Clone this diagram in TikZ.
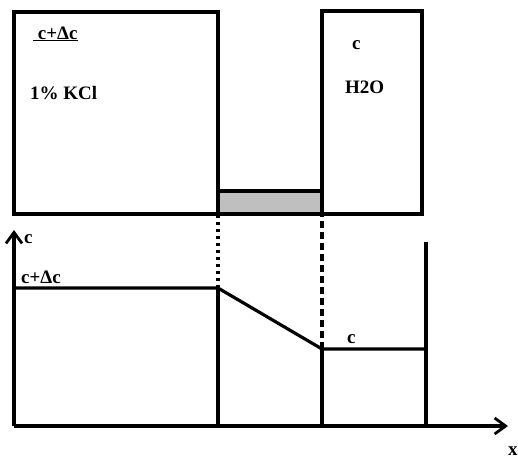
\documentclass[tikz,border=0pt]{standalone}
\usepackage{fontspec}
\setmainfont{Liberation Serif}
\usetikzlibrary{arrows.meta}
\begin{document}
\begin{tikzpicture}[x=1pt,y=-1pt,
  thick line/.style={line width=3.2pt},
  lbl/.style={anchor=base west,inner sep=0pt,font=\fontsize{19}{20}\selectfont\bfseries},
  axis/.style={thick line,-{Straight Barb[length=11pt,width=16pt,line width=2.8pt]}},
  dotline/.style={line width=3.2pt,dash pattern=on 3pt off 4pt},
  dashline/.style={line width=3.2pt,dash pattern=on 7pt off 4pt}]
\useasboundingbox (0,0) rectangle (518,459);
% coordinates
\coordinate (L1) at (14,12);
\coordinate (L2) at (218,214);
\coordinate (R1) at (322,11);
\coordinate (R2) at (422,214);
\coordinate (G1) at (218,191);
\coordinate (G2) at (322,214);
% top: boxes
\draw[thick line,fill=gray!50] (G1) rectangle (G2);
\draw[thick line] (L1) rectangle (L2);
\draw[thick line] (R1) rectangle (R2);
\draw[thick line] (L2) -- (R2 |- L2);
% labels top
\node[lbl] (t1) at (33,39) {\underline{ c+Δc}};
\node[lbl] (t2) at (30,99) {1\% KCl};
\node[lbl] (t3) at (352,49) {c};
\node[lbl] (t4) at (345,93) {H2O};
% lower plot
\coordinate (O) at (14,426);
\coordinate (Ytop) at (14,230);
\coordinate (Xend) at (508,426);
\coordinate (A) at (14,288);
\coordinate (B) at (218,288);
\coordinate (C) at (322,349);
\coordinate (D) at (426,349);
\coordinate (Dtop) at (426,242);
\draw[axis] (O) -- (Ytop);
\draw[axis] (O) -- (Xend);
\draw[thick line] (A) -- (B) -- (C) -- (D);
\draw[thick line] (B) -- (B |- O);
\draw[thick line] (C) -- (C |- O);
\draw[thick line] (Dtop) -- (D |- O);
\draw[dotline] (B) -- (L2);
\draw[dashline] (C) -- (G2);
% labels lower
\node[lbl] (c1) at (24,243) {c};
\node[lbl] (c2) at (21,283) {c+Δc};
\node[lbl] (c3) at (347,343) {c};
\node[lbl] (xl) at (508,455) {x};
\end{tikzpicture}
\end{document}
